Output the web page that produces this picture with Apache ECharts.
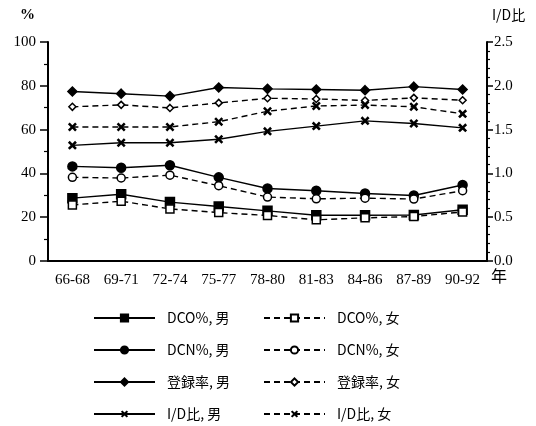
<!DOCTYPE html>
<html><head><meta charset="utf-8">
<script src="https://cdn.jsdelivr.net/npm/echarts@6/dist/echarts.min.js"></script>
<style>html,body{margin:0;padding:0;background:#fff}#c{width:536px;height:426px}</style>
</head><body><div id="c"></div>
<script>
var categories = ['66-68','69-71','72-74','75-77','78-80','81-83','84-86','87-89','90-92'];
var dcoMale   = [28.7, 30.5, 26.9, 24.9, 22.9, 20.9, 20.9, 21.0, 23.4];
var dcoFemale = [25.6, 27.3, 23.8, 22.1, 20.8, 18.8, 19.7, 20.3, 22.4];
var dcnMale   = [43.2, 42.6, 43.7, 38.2, 33.1, 32.1, 30.8, 29.9, 34.7];
var dcnFemale = [38.2, 37.9, 39.2, 34.4, 29.2, 28.4, 28.7, 28.3, 32.1];
var regMale   = [77.4, 76.4, 75.3, 79.2, 78.6, 78.3, 78.0, 79.6, 78.3];
var regFemale = [70.4, 71.3, 69.9, 72.2, 74.3, 74.0, 73.3, 74.5, 73.4];
var idMale    = [1.32, 1.35, 1.35, 1.39, 1.48, 1.54, 1.60, 1.57, 1.52];
var idFemale  = [1.53, 1.53, 1.53, 1.59, 1.71, 1.77, 1.78, 1.76, 1.68];
var leftTicks = [0, 20, 40, 60, 80, 100];
var rightTicks = [0.0, 0.5, 1.0, 1.5, 2.0, 2.5];
var names = ['DCO%, 男','DCN%, 男','登録率, 男','I/D比, 男','DCO%, 女','DCN%, 女','登録率, 女','I/D比, 女'];

var XPATH = 'path://M0,2L2,0L5,3L8,0L10,2L7,5L10,8L8,10L5,7L2,10L0,8L3,5Z';
var serif = '"Liberation Serif","DejaVu Serif",serif';
var sans = '"Noto Sans CJK JP","Noto Sans",sans-serif';

function mk(name, data, symbol, size, dashed, yi) {
  var isX = symbol === XPATH;
  return {
    name: name, type: 'line', data: data, yAxisIndex: yi || 0,
    symbol: symbol, symbolSize: size, showSymbol: true,
    lineStyle: { color: '#000', width: 1.4, type: dashed ? [6, 4] : 'solid' },
    itemStyle: { color: (dashed && !isX) ? '#fff' : '#000', borderColor: '#000', borderWidth: isX ? 0 : 1.5 },
    emphasis: { disabled: true }, animation: false
  };
}

var chart = echarts.init(document.getElementById('c'));
var legendCommon = {
  orient: 'vertical', itemWidth: 61, itemHeight: 9, itemGap: 18, height: 140,
  textStyle: { fontFamily: sans, fontSize: 14, color: '#000', padding: [0, 0, 0, 7] },
  selectedMode: false
};
chart.setOption({
  backgroundColor: '#fff',
  animation: false,
  grid: { left: 48, right: 49, top: 42, bottom: 165 },
  legend: [
    Object.assign({}, legendCommon, { left: 88, top: 306, data: names.slice(0, 4) }),
    Object.assign({}, legendCommon, { left: 258, top: 306, data: names.slice(4) })
  ],
  xAxis: {
    type: 'category', data: categories, boundaryGap: true,
    axisLine: { lineStyle: { color: '#000', width: 2 } },
    axisTick: { alignWithLabel: true, length: 7, lineStyle: { color: '#000', width: 1.5 } },
    axisLabel: { color: '#000', fontFamily: serif, fontSize: 15, margin: 12 },
    splitLine: { show: false }
  },
  yAxis: [
    {
      type: 'value', min: leftTicks[0], max: leftTicks[leftTicks.length - 1], interval: 20,
      axisLine: { show: true, lineStyle: { color: '#000', width: 2 } },
      axisTick: { show: true, length: 8, lineStyle: { color: '#000', width: 1.5 } },
      minorTick: { show: true, splitNumber: 2, length: 4, lineStyle: { color: '#000', width: 1.2 } },
      axisLabel: { color: '#000', fontFamily: serif, fontSize: 15, margin: 12 },
      splitLine: { show: false }
    },
    {
      type: 'value', min: rightTicks[0], max: rightTicks[rightTicks.length - 1], interval: 0.5,
      position: 'right',
      axisLine: { show: true, lineStyle: { color: '#000', width: 2 } },
      axisTick: { show: true, length: 6, lineStyle: { color: '#000', width: 1.5 } },
      minorTick: { show: true, splitNumber: 5, length: 3, lineStyle: { color: '#000', width: 1.2 } },
      axisLabel: { color: '#000', fontFamily: serif, fontSize: 15, margin: 7, formatter: function (v) { return v.toFixed(1); } },
      splitLine: { show: false }
    }
  ],
  graphic: [
    { type: 'text', left: 20, top: 8, style: { text: '%', font: 'bold 15px ' + serif, fill: '#000' } },
    { type: 'text', left: 492, top: 8, style: { text: 'I/D比', font: '14px ' + sans, fill: '#000' } },
    { type: 'text', left: 491, top: 268, style: { text: '年', font: '16px ' + sans, fill: '#000' } }
  ],
  series: [
    mk(names[0], dcoMale, 'rect', 9, false),
    mk(names[1], dcnMale, 'circle', 9, false),
    mk(names[2], regMale, 'diamond', 9, false),
    mk(names[3], idMale, XPATH, 9, false, 1),
    mk(names[4], dcoFemale, 'rect', 8, true),
    mk(names[5], dcnFemale, 'circle', 8, true),
    mk(names[6], regFemale, 'diamond', 7, true),
    mk(names[7], idFemale, XPATH, 9, true, 1)
  ]
});
</script></body></html>
